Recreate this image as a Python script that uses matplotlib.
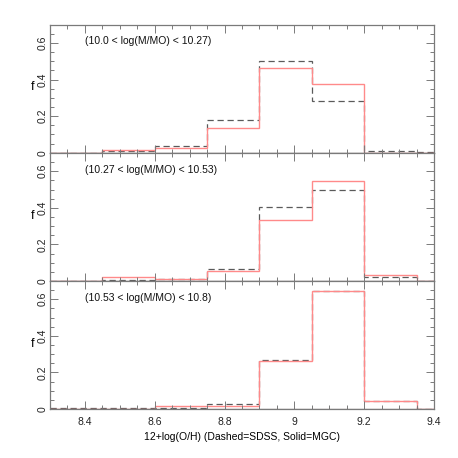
import matplotlib
matplotlib.use("Agg")
import matplotlib.pyplot as plt
from matplotlib.ticker import MultipleLocator

plt.rcParams['font.family'] = ['Liberation Sans', 'DejaVu Sans']

edges = [8.3, 8.45, 8.6, 8.75, 8.9, 9.05, 9.2, 9.35, 9.5]
panel_labels = ["(10.0 < log(M/MO) < 10.27)",
                "(10.27 < log(M/MO) < 10.53)",
                "(10.53 < log(M/MO) < 10.8)"]
mgc_1 = [0.0, 0.016, 0.025, 0.136, 0.464, 0.373, 0.0, 0.0]
sdss_1 = [0.0, 0.007, 0.036, 0.178, 0.502, 0.285, 0.009, 0.005]
mgc_2 = [0.0, 0.022, 0.010, 0.053, 0.333, 0.549, 0.034, 0.0]
sdss_2 = [0.0, 0.003, 0.010, 0.067, 0.405, 0.496, 0.023, 0.0]
mgc_3 = [0.0, 0.0, 0.018, 0.018, 0.260, 0.646, 0.045, 0.0]
sdss_3 = [0.003, 0.003, 0.004, 0.026, 0.270, 0.644, 0.046, 0.0]
mgc = [mgc_1, mgc_2, mgc_3]
sdss = [sdss_1, sdss_2, sdss_3]
xticks = [8.4, 8.6, 8.8, 9.0, 9.2, 9.4]
xticklabels = ["8.4", "8.6", "8.8", "9", "9.2", "9.4"]
yticks = [0, 0.2, 0.4, 0.6]
yticklabels = ["0", "0.2", "0.4", "0.6"]

fig = plt.figure(figsize=(4.58, 4.58), dpi=100)
left, right = 50 / 458, 434 / 458
top_px = [24.7, 153, 281]
h_px = 128
spine_col = '#7a7a7a'
for i in range(3):
    bottom = 1 - (top_px[i] + h_px) / 458
    ax = fig.add_axes([left, bottom, right - left, h_px / 458])
    ax.stairs(sdss[i], edges, color='#5a5a5a', lw=0.9, linestyle=(0, (5, 3)), baseline=None)
    ax.stairs(mgc[i], edges, color='#ff8a8a', lw=1.0, baseline=None)
    ax.axhline(0, color='#6a5a5a', lw=0.9)
    ax.set_xlim(8.3, 9.4)
    ax.set_ylim(0, 0.7)
    ax.xaxis.set_major_locator(MultipleLocator(0.2))
    ax.xaxis.set_minor_locator(MultipleLocator(0.05))
    ax.set_yticks(yticks)
    ax.set_yticklabels(yticklabels, rotation=90, va='center', fontsize=7.5, color='#222222')
    ax.yaxis.set_minor_locator(MultipleLocator(0.05))
    ax.tick_params(which='both', direction='in', top=True, right=True, color=spine_col, width=0.7)
    ax.tick_params(which='major', length=6)
    ax.tick_params(which='minor', length=3)
    ax.tick_params(axis='y', pad=1.5)
    for s in ax.spines.values():
        s.set_color(spine_col)
        s.set_linewidth(0.9)
    ax.text(0.092, 0.87, panel_labels[i],
            transform=ax.transAxes, fontsize=7.5, va='center', ha='left', color='#111111')
    ax.set_ylabel('f', rotation=0, fontsize=9, va='center', ha='center')
    ax.yaxis.set_label_coords(-0.046, 0.51)
    if i < 2:
        ax.set_xticklabels([])
    else:
        ax.set_xticks(xticks)
        ax.set_xticklabels(xticklabels, fontsize=7.5, color='#222222')
        ax.tick_params(axis='x', pad=6)
        ax.set_xlabel("12+log(O/H) (Dashed=SDSS, Solid=MGC)", fontsize=7.5, labelpad=3)

fig.savefig("out.png", dpi=100)
